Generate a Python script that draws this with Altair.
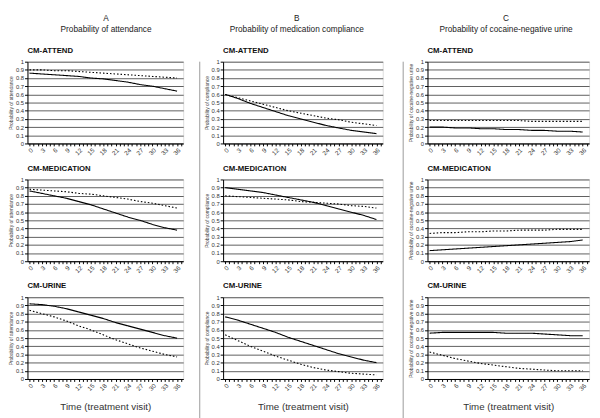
import altair as alt
import pandas as pd

visits = [0, 3, 6, 9, 12, 15, 18, 21, 24, 27, 30, 33, 36]
groups = ["Solid line", "Dotted line"]
panel_names = ["CM-ATTEND", "CM-MEDICATION", "CM-URINE"]

col_letters = ["A", "B", "C"]
col_headers = ["Probability of attendance",
               "Probability of medication compliance",
               "Probability of cocaine-negative urine"]
y_titles = ["Probability of attendance",
            "Probability of compliance",
            "Probability of cocaine-negative urine"]

# Column A: probability of attendance
a_attend_solid = [0.86, 0.85, 0.84, 0.83, 0.82, 0.80, 0.79, 0.77, 0.75, 0.72, 0.70, 0.67, 0.64]
a_attend_dotted = [0.90, 0.90, 0.89, 0.89, 0.88, 0.87, 0.86, 0.85, 0.84, 0.83, 0.82, 0.81, 0.80]
a_med_solid = [0.86, 0.83, 0.80, 0.77, 0.73, 0.69, 0.64, 0.59, 0.54, 0.50, 0.45, 0.41, 0.38]
a_med_dotted = [0.88, 0.87, 0.86, 0.85, 0.83, 0.82, 0.80, 0.78, 0.76, 0.73, 0.71, 0.68, 0.65]
a_urine_solid = [0.92, 0.91, 0.89, 0.86, 0.82, 0.78, 0.74, 0.69, 0.65, 0.61, 0.57, 0.53, 0.50]
a_urine_dotted = [0.84, 0.80, 0.76, 0.71, 0.65, 0.60, 0.54, 0.48, 0.43, 0.38, 0.34, 0.30, 0.27]

# Column B: probability of medication compliance
b_attend_solid = [0.60, 0.55, 0.49, 0.44, 0.39, 0.34, 0.30, 0.26, 0.22, 0.19, 0.16, 0.14, 0.12]
b_attend_dotted = [0.60, 0.56, 0.52, 0.48, 0.44, 0.40, 0.37, 0.34, 0.31, 0.29, 0.26, 0.24, 0.22]
b_med_solid = [0.90, 0.88, 0.86, 0.84, 0.81, 0.78, 0.75, 0.72, 0.68, 0.64, 0.60, 0.56, 0.51]
b_med_dotted = [0.80, 0.79, 0.78, 0.77, 0.76, 0.75, 0.73, 0.72, 0.71, 0.70, 0.68, 0.67, 0.65]
b_urine_solid = [0.76, 0.72, 0.67, 0.62, 0.57, 0.51, 0.46, 0.41, 0.36, 0.31, 0.27, 0.23, 0.20]
b_urine_dotted = [0.54, 0.47, 0.40, 0.34, 0.28, 0.23, 0.18, 0.14, 0.11, 0.09, 0.07, 0.06, 0.05]

# Column C: probability of cocaine-negative urine
c_attend_solid = [0.20, 0.20, 0.19, 0.19, 0.18, 0.18, 0.17, 0.17, 0.16, 0.16, 0.15, 0.15, 0.14]
c_attend_dotted = [0.28, 0.28, 0.28, 0.28, 0.28, 0.28, 0.28, 0.28, 0.27, 0.27, 0.27, 0.27, 0.27]
c_med_solid = [0.13, 0.14, 0.15, 0.16, 0.17, 0.18, 0.19, 0.20, 0.21, 0.22, 0.23, 0.24, 0.26]
c_med_dotted = [0.34, 0.35, 0.35, 0.36, 0.36, 0.37, 0.37, 0.38, 0.38, 0.38, 0.39, 0.39, 0.39]
c_urine_solid = [0.56, 0.57, 0.57, 0.57, 0.57, 0.57, 0.56, 0.56, 0.56, 0.55, 0.54, 0.53, 0.53]
c_urine_dotted = [0.33, 0.29, 0.25, 0.22, 0.19, 0.17, 0.15, 0.13, 0.12, 0.11, 0.10, 0.10, 0.10]

series = [
    [(a_attend_solid, a_attend_dotted), (a_med_solid, a_med_dotted), (a_urine_solid, a_urine_dotted)],
    [(b_attend_solid, b_attend_dotted), (b_med_solid, b_med_dotted), (b_urine_solid, b_urine_dotted)],
    [(c_attend_solid, c_attend_dotted), (c_med_solid, c_med_dotted), (c_urine_solid, c_urine_dotted)],
]

col_widths = [160, 164, 166]
header_dx = [9, 2, 6]
PANEL_H = 84
FONT = "Liberation Sans"
y_ticks = [0, 0.1, 0.2, 0.3, 0.4, 0.5, 0.6, 0.7, 0.8, 0.9, 1]
x_ticks = list(range(0, 38))


def make_df(solid, dotted):
    rows = []
    for v, s in zip(visits, solid):
        rows.append({"visit": v, "p": s, "group": groups[0]})
    for v, d in zip(visits, dotted):
        rows.append({"visit": v, "p": d, "group": groups[1]})
    return pd.DataFrame(rows)


def panel(df, name, ytitle, width, bottom):
    x_kwargs = dict(values=x_ticks,
                    labelExpr="datum.value % 3 == 0 ? datum.label : ''",
                    labelAngle=-45, labelFontSize=6.5, labelColor="#333",
                    labelPadding=1, labelOverlap=False, labelBound=False,
                    tickSize=2.5, tickColor="#000",
                    domainColor="#000", grid=False, labelFont=FONT)
    if bottom:
        x_kwargs.update(title="Time (treatment visit)", titleFontSize=10,
                        titleFontWeight="normal", titlePadding=10,
                        titleColor="#333", titleFont=FONT)
    x_enc = alt.X("visit:Q",
                  scale=alt.Scale(domain=[-0.5, 37.5], nice=False, zero=False),
                  axis=alt.Axis(**x_kwargs),
                  title="Time (treatment visit)" if bottom else None)
    y_enc = alt.Y("p:Q",
                  scale=alt.Scale(domain=[0, 1], nice=False),
                  axis=alt.Axis(values=y_ticks, format="~g", labelFontSize=6,
                                labelColor="#333", labelPadding=1, tickSize=3,
                                tickColor="#000", domainColor="#000",
                                labelOverlap=False,
                                grid=True, gridColor="#333", gridWidth=0.8,
                                title=ytitle, titleFontSize=5,
                                titleFontWeight="normal", titleColor="#444",
                                titlePadding=2, minExtent=12, maxExtent=12,
                                labelFont=FONT, titleFont=FONT))
    return alt.Chart(df).mark_line(color="black", strokeWidth=1.1).encode(
        x=x_enc,
        y=y_enc,
        strokeDash=alt.StrokeDash("group:N",
                                  scale=alt.Scale(domain=groups, range=[[1, 0], [1.6, 2]]),
                                  legend=None),
    ).properties(
        width=width, height=PANEL_H,
        title=alt.TitleParams(name, anchor="start", frame="group", fontSize=8,
                              fontWeight="bold", font=FONT, color="#111", offset=4),
    )


columns = []
for ci in range(3):
    panels = []
    for ri in range(3):
        solid, dotted = series[ci][ri]
        panels.append(panel(make_df(solid, dotted), panel_names[ri], y_titles[ci],
                            col_widths[ci], ri == 2))
    col = alt.vconcat(*panels, spacing=7).properties(
        title=alt.TitleParams([col_letters[ci], col_headers[ci]], anchor="middle",
                              fontSize=8.5, fontWeight="normal", font=FONT,
                              color="#222", lineHeight=11, offset=14,
                              dx=header_dx[ci])
    )
    columns.append(col)


def separator(width, xpos):
    return alt.Chart(pd.DataFrame({"a": [0]})).mark_rule(color="#999", strokeWidth=1).encode(
        x=alt.value(xpos), y=alt.value(0), y2=alt.value(400)
    ).properties(width=width, height=400, view=alt.ViewBackground(strokeOpacity=0))


chart = alt.hconcat(
    columns[0], separator(18, 14), columns[1], separator(23, 18), columns[2],
    spacing=0,
).properties(
    padding=0, background="white"
).configure_view(
    stroke="#000", strokeWidth=1
).configure_axis(
    titleFontWeight="normal"
).configure(
    style={"guide-title": {"fontWeight": "normal"}}
)

chart.save("out.html", embed_options={"renderer": "svg", "actions": False})
